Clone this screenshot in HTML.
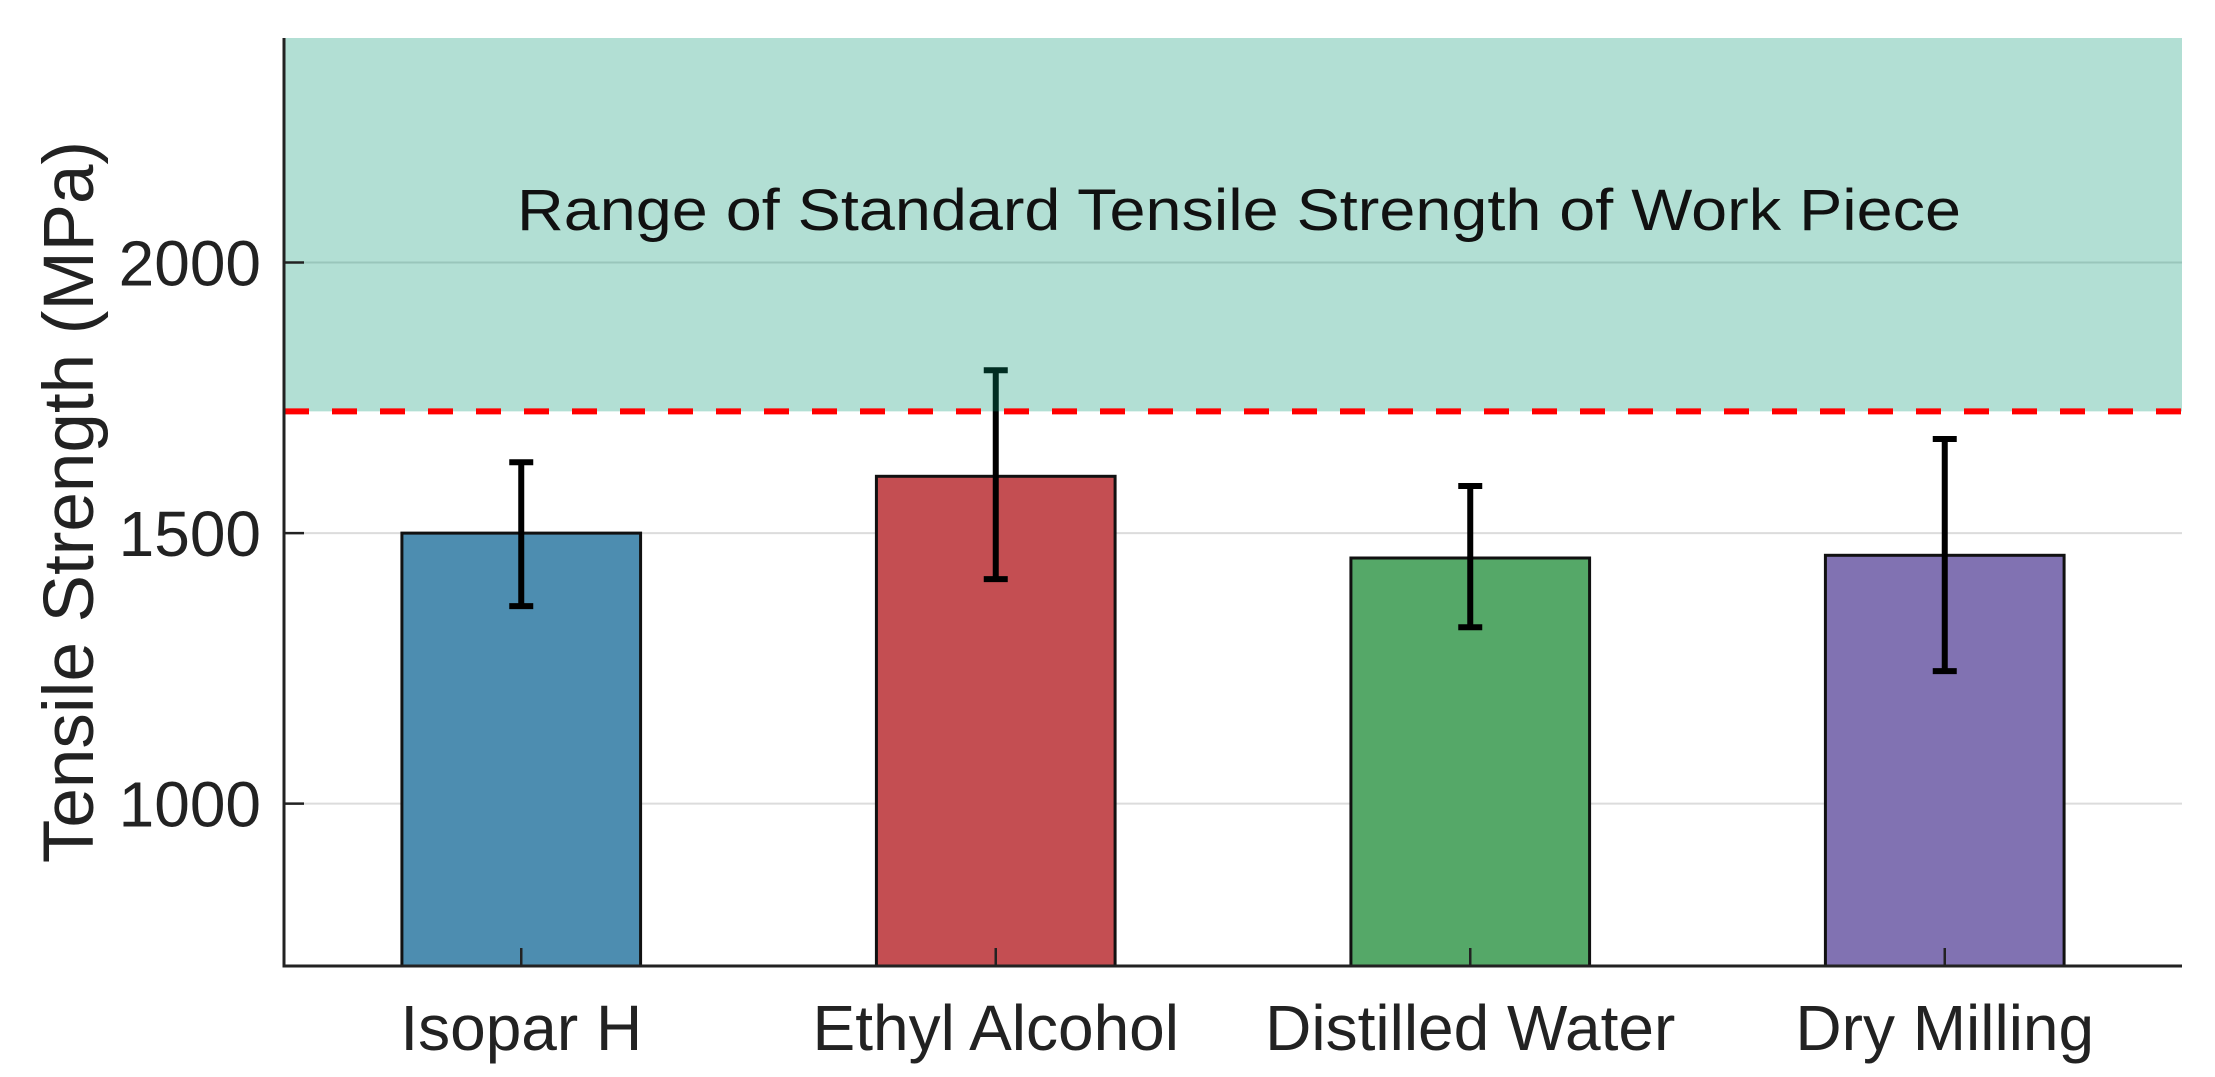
<!DOCTYPE html>
<html><head><meta charset="utf-8"><style>
html,body{margin:0;padding:0;background:#fff;}
svg{display:block;font-family:"Liberation Sans",Arial,sans-serif;}
</style></head><body>
<svg id="chart" width="2215" height="1077" viewBox="0 0 2215 1077"></svg>
<script>
const categories = ["Isopar H","Ethyl Alcohol","Distilled Water","Dry Milling"];
const values = [1500, 1605, 1454, 1459];
const errUpper = [1631, 1801, 1587, 1674];
const errLower = [1365, 1415, 1326, 1245];
const colors = ["#4d8db0","#c44e52","#55a868","#8172b2"];
const yTicks = [1000, 1500, 2000];
const threshold = 1725;
const yMin = 700, yMax = 2415;

const L = 284, R = 2182, T = 38, B = 966;
const NS = "http://www.w3.org/2000/svg";
const svg = document.getElementById('chart');
const y = v => B - (v - yMin) / (yMax - yMin) * (B - T);
const x = i => L + (i + 0.5) / categories.length * (R - L);
const slot = (R - L) / categories.length;
function mk(tag, attrs, parent) {
  const e = document.createElementNS(NS, tag);
  for (const k in attrs) e.setAttribute(k, attrs[k]);
  (parent || svg).appendChild(e);
  return e;
}
yTicks.forEach(t => {
  const g = mk('line', {x1: L, x2: R, y1: y(t), y2: y(t), stroke: '#dcdcdc', 'stroke-width': 2});
  
  
});
categories.forEach((c, i) => {
  const w = slot * 0.503;
  const b = mk('rect', {x: x(i) - w / 2, y: y(values[i]), width: w, height: B - y(values[i]), fill: colors[i], stroke: '#111', 'stroke-width': 3});
  
  
  const tk = mk('line', {x1: x(i), x2: x(i), y1: B, y2: B - 18, stroke: '#222', 'stroke-width': 2.5});
  
  
  const eb = mk('g', {stroke: '#000', 'stroke-width': 6});
  
  
  mk('line', {x1: x(i), x2: x(i), y1: y(errUpper[i]), y2: y(errLower[i])}, eb);
  mk('line', {x1: x(i) - 12, x2: x(i) + 12, y1: y(errUpper[i]), y2: y(errUpper[i])}, eb);
  mk('line', {x1: x(i) - 12, x2: x(i) + 12, y1: y(errLower[i]), y2: y(errLower[i])}, eb);
  const lb = mk('text', {x: x(i), y: 1050, 'font-size': 64, 'text-anchor': 'middle', fill: '#222'});
  lb.textContent = c;
  
  
});
const band = mk('rect', {x: L, y: T, width: R - L, height: y(threshold) - T, fill: 'rgb(0,148,112)', 'fill-opacity': 0.3});


const dl = mk('line', {x1: L, x2: R, y1: y(threshold), y2: y(threshold), stroke: '#ff0000', 'stroke-width': 6, 'stroke-dasharray': '25 23'});


const bt = mk('text', {x: 1239, y: 230, 'font-size': 58, 'text-anchor': 'middle', fill: '#111', textLength: 1444, lengthAdjust: 'spacingAndGlyphs'});
bt.textContent = 'Range of Standard Tensile Strength of Work Piece';


yTicks.forEach(t => {
  const tk = mk('line', {x1: L, x2: L + 20, y1: y(t), y2: y(t), stroke: '#222', 'stroke-width': 2.5});
  
  
  const lb = mk('text', {x: 261, y: y(t) + 23, 'font-size': 64, 'text-anchor': 'end', fill: '#222'});
  lb.textContent = t;
  
  
});
const ax = mk('path', {d: `M${L},${T} L${L},${B} L${R},${B}`, fill: 'none', stroke: '#222', 'stroke-width': 3});


const yt = mk('text', {x: 0, y: 0, 'font-size': 71, 'text-anchor': 'middle', fill: '#222', transform: 'translate(93,502) rotate(-90)'});
yt.textContent = 'Tensile Strength (MPa)';


</script>
</body></html>
